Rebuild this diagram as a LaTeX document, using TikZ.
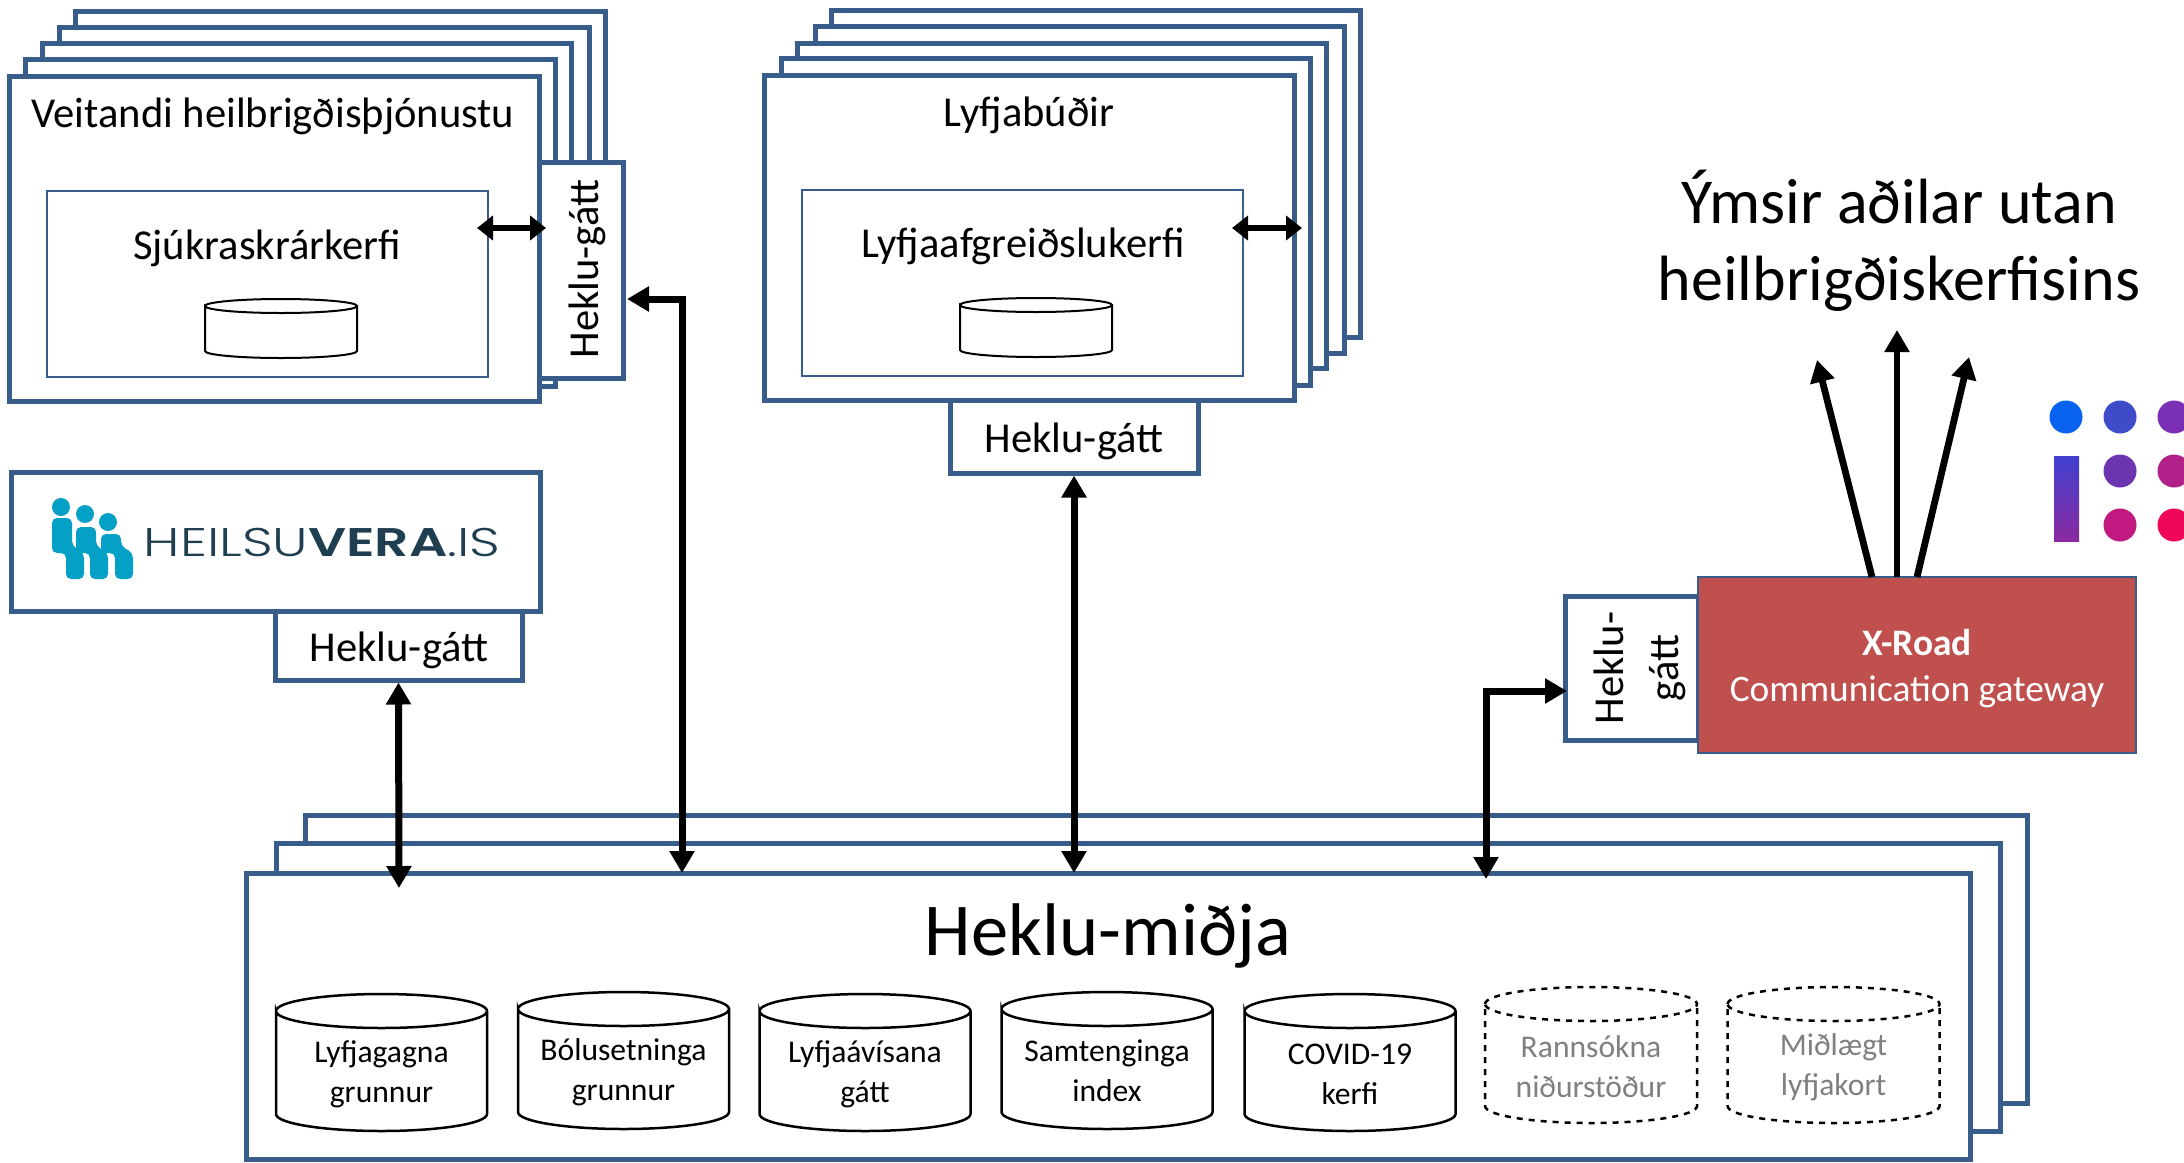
\documentclass[tikz,border=0pt]{standalone}
\usepackage{fontspec}
\setmainfont{Carlito}
\newfontfamily\logofont[FakeStretch=1.34,UprightFont={Poppins Light},BoldFont={Poppins SemiBold}]{Poppins}
\usetikzlibrary{arrows.meta}
\usetikzlibrary{fit}
\definecolor{boxblue}{HTML}{385D8A}
\definecolor{roadred}{HTML}{C0504D}
\definecolor{logoteal}{HTML}{04A0C6}
\definecolor{logoink}{HTML}{1F3F50}
\newcommand\drumpath[5]{% centre x, top, bottom, half width, rise
(#1-#4,#2+#5) arc[start angle=180,end angle=-180,x radius=#4*.5pt,y radius=#5*.5pt]
-- (#1-#4,#3-#5) arc[start angle=180,end angle=360,x radius=#4*.5pt,y radius=#5*.5pt]
-- (#1+#4,#2+#5)
}
\tikzset{
  panel/.style={draw=boxblue,line width=2.5pt,fill=white,inner sep=0pt},
  inner/.style={draw=boxblue,line width=1pt,fill=white,inner sep=0pt},
  drum/.style={draw=black,line width=1.25pt,fill=white},
  smalldrum/.style={draw=black,line width=1pt,fill=white},
  drumtext/.style={inner sep=0pt,align=center,font=\fontsize{15.8}{20}\selectfont},
  thick arrow/.style={line width=3.4pt,-{Triangle[length=11pt,width=12pt]}},
  both arrow/.style={line width=3.5pt,{Triangle[length=11pt,width=12pt]}-{Triangle[length=11pt,width=12pt]}},
  short arrow/.style={line width=3pt,{Triangle[length=8pt,width=12pt]}-{Triangle[length=8pt,width=12pt]}},
  label/.style={font=\fontsize{21.3}{27.5}\selectfont,inner sep=0pt}
}
\begin{document}
\begin{tikzpicture}[x=.5pt,y=-.5pt]
    \useasboundingbox (0,0) rectangle (2184,1162);

    % veitandi stack
    \foreach \l/\t/\r/\b/\k in {75/11/605/337/4,59/27/589/353/3,42/43/571/370/2,25/59/555/386/1}
        \node[panel,fit={(\l,\t)(\r,\b)}] (vs\k) {};
    \node[panel,fit={(539,162)(623,378)}] (vgate) {};
    \node[label,rotate=90] (vgatetxt) at (587,269) {Heklu-gátt};
    \node[panel,fit={(9,76)(539,401)}] (veit) {};
    \node[label] (veittxt) at (273,116) {Veitandi heilbrigðisþjónustu};
    \node[inner,fit={(47,191)(488,377)}] (sjuk) {};
    \node[label] (sjuktxt) at (267,248) {Sjúkraskrárkerfi};
    \draw[smalldrum] \drumpath{281}{299}{358}{76}{7};

    % lyfjabudir stack
    \foreach \l/\t/\r/\b/\k in {831/10/1360/337/4,815/26/1344/353/3,797/43/1326/368/2,781/58/1310/385/1}
        \node[panel,fit={(\l,\t)(\r,\b)}] (ls\k) {};
    \node[panel,fit={(764,75)(1294,400)}] (lyf) {};
    \node[label] (lyftxt) at (1029,115) {Lyfjabúðir};
    \node[inner,fit={(802,190)(1243,376)}] (lafg) {};
    \node[label] (lafgtxt) at (1023,246) {Lyfjaafgreiðslukerfi};
    \draw[smalldrum] \drumpath{1036}{298}{357}{76}{7};
    \node[panel,fit={(950,400)(1198,473)}] (lgate) {};
    \node[label] (lgatetxt) at (1074,441) {Heklu-gátt};

    % heilsuvera
    \node[panel,fit={(11,472)(540,611)}] (heil) {};
    \foreach \x/\y/\t/\k in {61/507/518/0,85/514/527/24,108/522/534/49} {
        \fill[logoteal] (\x,\y) circle (9);
        \fill[logoteal,rounded corners=2.5pt] (52+\k,\t) -- (72+\k,\t) -- (72+\k,546) -- (84+\k,553) -- (84+\k,579) -- (66+\k,579) -- (66+\k,553) -- (52+\k,553) -- cycle;
    }
    \node[inner sep=0pt,text=logoink,font=\logofont\fontsize{20}{24}\selectfont] (heiltxt) at (322,542) {HEILSU\textbf{VERA}.IS};
    \node[panel,fit={(275,611)(522,680)}] (hgate) {};
    \node[label] (hgatetxt) at (399,650) {Heklu-gátt};

    % midja
    \foreach \l/\t/\r/\b/\k in {305/815/2027/1103/2,276/843/2000/1131/1}
        \node[panel,fit={(\l,\t)(\r,\b)}] (ms\k) {};
    \node[panel,fit={(246,873)(1970,1159)}] (midja) {};
    \node[label,font=\fontsize{37.3}{42}\selectfont] (midjatxt) at (1108,936) {Heklu-miðja};
    \foreach \x/\t/\b/\y/\s/\k in {381.5/994/1131/1074/Lyfjagagna\\grunnur/1,623.5/992/1129/1072/Bólusetninga\\grunnur/2,865/994/1131/1074/Lyfjaávísana\\gátt/3,1107/992/1129/1071/Samtenginga\\index/4,1350/994/1131/1074/COVID-19\\kerfi/5} {
        \draw[drum] \drumpath{\x}{\t}{\b}{105.5}{17};
        \node[drumtext] (db\k) at (\x,\y) {\s};
    }
    \foreach \x/\s/\k in {1591/Rannsókna\\niðurstöður/6,1833.5/Miðlægt\\lyfjakort/7} {
        \draw[drum,dashed] \drumpath{\x}{987}{1123}{106}{17};
        \node[drumtext,text=black!50] (db\k) at (\x,1067) {\s};
    }

    % x-road
    \node[panel,fit={(1565,596)(1698,740)}] (xgate) {};
    \node[label,rotate=90,align=center] (xgatetxt) at (1640,668) {Heklu-\\gátt};
    \node[draw=boxblue,line width=1pt,fill=roadred,inner sep=0pt,fit={(1698,577)(2136,753)}] (xroad) {};
    \node[text=white,inner sep=0pt,align=center,font=\fontsize{18.7}{23}\selectfont] (xroadtxt) at (1917,669) {\textbf{X-Road}\\Communication gateway};

    \node[inner sep=0pt,align=center,font=\fontsize{32}{38.3}\selectfont] (utan) at (1899,241) {Ýmsir aðilar utan\\heilbrigðiskerfisins};

    % i logo
    \begin{scope}
    \clip (2040,390) rectangle (2184,550);
    \foreach \x/\y/\c in {2066/417/0A63F0,2120/417/3F4BC9,2174/417/7B2FB5,2120/471/6B35AF,2174/471/B02088,2120/525/C01A80,2174/525/F0075A} {
        \definecolor{dotc}{HTML}{\c}
        \fill[dotc] (\x,\y) circle (16.5);
    }
    \definecolor{bartop}{HTML}{4040D0}
    \definecolor{barend}{HTML}{8A2BA0}
    \fill[top color=bartop,bottom color=barend] (2054,456) rectangle (2079,541);
    \end{scope}

    \coordinate (vin) at (627,299);
    \coordinate (mv) at (682,873);
    \coordinate (mh) at (399,888);
    \coordinate (ml) at (1074,873);
    \coordinate (mx) at (1486,879);
    \coordinate (xin) at (1567,691);
    \coordinate (up1) at (1817,360);
    \coordinate (up2) at (1897,330);
    \coordinate (up3) at (1969,357);
    \coordinate (sjukend) at (477,228);
    \coordinate (sjukout) at (546,228);
    \coordinate (lafgend) at (1232,228);
    \coordinate (lafgout) at (1302,228);
    \coordinate (xa) at (1872,577);
    \coordinate (xb) at (1897,577);
    \coordinate (xc) at (1917,577);

    \draw[short arrow] (sjukend) -- (sjukout);
    \draw[short arrow] (lafgend) -- (lafgout);
    \draw[both arrow] (hgate.south) -- (mh);
    \draw[both arrow] (vin) -| (mv);
    \draw[both arrow] (lgate.south) -- (ml);
    \draw[both arrow] (xin) -| (mx);
    \foreach \a/\b in {xa/up1,xb/up2,xc/up3}
        \draw[thick arrow] (\a) -- (\b);
\end{tikzpicture}
\end{document}
